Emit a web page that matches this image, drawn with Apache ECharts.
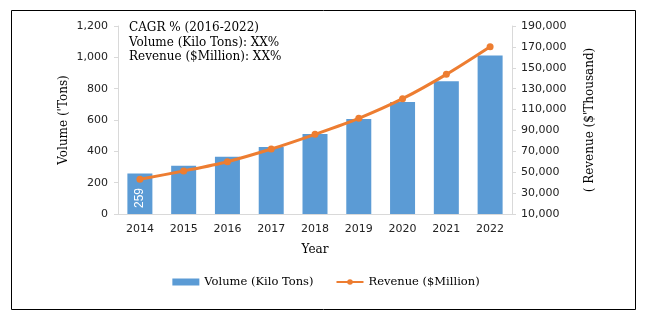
<!DOCTYPE html>
<html><head><meta charset="utf-8">
<script src="https://cdn.jsdelivr.net/npm/echarts@6/dist/echarts.min.js"></script>
<style>html,body{margin:0;padding:0;background:#fff}#c{width:652px;height:325px}</style>
</head><body><div id="c"></div>
<script>
const years = ['2014','2015','2016','2017','2018','2019','2020','2021','2022'];
const volume = [259, 308, 366, 428, 511, 606, 715, 847, 1012];
const revenue = [43200, 51200, 60100, 72200, 86300, 101600, 120400, 143700, 170200];
const cagrLines = ['CAGR % (2016-2022)', 'Volume (Kilo Tons): XX%', 'Revenue ($Million): XX%'];

const serif = 'DejaVu Serif';
const sans = 'DejaVu Sans';
const chart = echarts.init(document.getElementById('c'), null, {renderer: 'canvas'});
chart.setOption({
  animation: false,
  grid: {left: 118, right: 140, top: 26, bottom: 111, containLabel: false},
  graphic: [
    {type: 'rect', shape: {x: 11.5, y: 10.5, width: 624, height: 299}, style: {fill: 'none', stroke: '#000', lineWidth: 1}, z: -1},
    {type: 'text', left: 129, top: 21, style: {text: cagrLines.join('\n'), font: '12px "' + serif + '"', lineHeight: 14.5, fill: '#000'}}
  ],
  legend: {
    bottom: 32, left: 'center', itemGap: 22, itemWidth: 27, itemHeight: 7,
    textStyle: {fontFamily: serif, fontSize: 11.5, color: '#000'},
    data: [{name: 'Volume (Kilo Tons)', icon: 'rect'}, {name: 'Revenue ($Million)'}]
  },
  xAxis: {
    type: 'category', data: years,
    name: 'Year', nameLocation: 'middle', nameGap: 30, nameMoveOverlap: false,
    nameTextStyle: {fontFamily: serif, fontSize: 12, color: '#000'},
    axisLine: {lineStyle: {color: '#d9d9d9'}}, axisTick: {show: false},
    axisLabel: {fontFamily: sans, fontSize: 11, color: '#222', margin: 10}
  },
  yAxis: [
    {type: 'value', min: 0, max: 1200, interval: 200,
     name: "Volume ('Tons)", nameLocation: 'middle', nameGap: 48, nameRotate: 90, nameMoveOverlap: false,
     nameTextStyle: {fontFamily: serif, fontSize: 12, color: '#000'},
     axisLine: {show: true, lineStyle: {color: '#d9d9d9'}}, axisTick: {show: true, length: 4, inside: false, lineStyle: {color: '#d9d9d9'}},
     splitLine: {show: false},
     axisLabel: {fontFamily: sans, fontSize: 11, color: '#222', margin: 10, formatter: v => v.toLocaleString('en-US')}},
    {type: 'value', min: 10000, max: 190000, interval: 20000, position: 'right',
     name: "( Revenue ($'Thousand)", nameLocation: 'middle', nameGap: 72, nameRotate: 90, nameMoveOverlap: false,
     nameTextStyle: {fontFamily: serif, fontSize: 12, color: '#000'},
     axisLine: {show: true, lineStyle: {color: '#d9d9d9'}}, axisTick: {show: true, length: 4, lineStyle: {color: '#d9d9d9'}},
     splitLine: {show: false},
     axisLabel: {fontFamily: sans, fontSize: 11, color: '#222', margin: 9, formatter: v => v.toLocaleString('en-US')}}
  ],
  series: [
    {name: 'Volume (Kilo Tons)', type: 'bar', data: volume.map((v, i) => i === 0 ? {value: v, label: {show: true}} : v),
     barWidth: 25, itemStyle: {color: '#5B9BD5'},
     label: {show: false, position: 'insideBottom', rotate: 90, align: 'left', verticalAlign: 'middle', distance: 6,
             color: '#fff', fontFamily: 'Liberation Sans', fontSize: 12}},
    {name: 'Revenue ($Million)', type: 'line', yAxisIndex: 1, data: revenue, smooth: 0.3,
     symbol: 'circle', symbolSize: 7, lineStyle: {color: '#ED7D31', width: 3}, itemStyle: {color: '#ED7D31'}}
  ]
});
</script></body></html>
